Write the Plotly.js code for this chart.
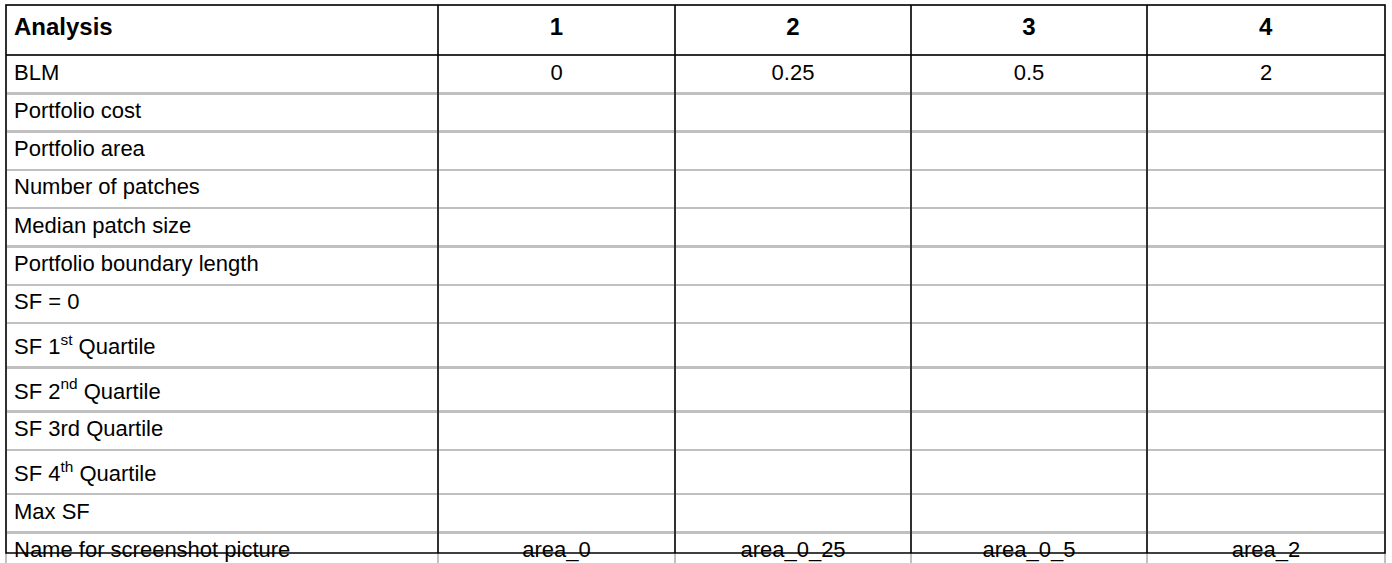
<!DOCTYPE html>
<html>
<head>
<meta charset="utf-8">
<script src="https://cdn.plot.ly/plotly-3.0.1.min.js"></script>
<style>body{margin:0;background:#fff}#graph{width:1392px;height:563px}</style>
</head>
<body>
<div id="graph"></div>
<script>
// table content
const headers = ['Analysis', '1', '2', '3', '4'];
const rowLabels = ['BLM', 'Portfolio cost', 'Portfolio area', 'Number of patches', 'Median patch size',
    'Portfolio boundary length', 'SF = 0', 'SF 1<sup>st</sup> Quartile', 'SF 2<sup>nd</sup> Quartile',
    'SF 3rd Quartile', 'SF 4<sup>th</sup> Quartile', 'Max SF', 'Name for screenshot picture'];
const analysis1 = ['0', '', '', '', '', '', '', '', '', '', '', '', 'area_0'];
const analysis2 = ['0.25', '', '', '', '', '', '', '', '', '', '', '', 'area_0_25'];
const analysis3 = ['0.5', '', '', '', '', '', '', '', '', '', '', '', 'area_0_5'];
const analysis4 = ['2', '', '', '', '', '', '', '', '', '', '', '', 'area_2'];

const W = 1392, H = 563;
const tblLeft = 6, tblRight = 1385, tblTop = 5;
const headH = 50, rowH = 38.3;
const colW = [432, 237, 236, 236, 238];
const tblBottom = tblTop + headH + rowH * rowLabels.length;

const px = x => x / W;
const py = y => 1 - y / H;

const trace = {
    type: 'table',
    domain: { x: [px(tblLeft), px(tblRight)], y: [0, py(tblTop)] },
    columnwidth: colW,
    header: {
        values: headers.map(h => '<b>' + h + '</b>'),
        align: ['left', 'center', 'center', 'center', 'center'],
        height: headH,
        line: { color: '#c0c0c0', width: 2 },
        fill: { color: 'white' },
        font: { family: 'Liberation Sans, Arial, sans-serif', size: 24, color: 'black' }
    },
    cells: {
        values: [rowLabels, analysis1, analysis2, analysis3, analysis4],
        align: ['left', 'center', 'center', 'center', 'center'],
        height: rowH,
        line: { color: '#c0c0c0', width: 2.5 },
        fill: { color: 'white' },
        font: { family: 'Liberation Sans, Arial, sans-serif', size: 22, color: 'black' }
    }
};

// black grid: outer box, column separators, header underline
const shapes = [];
const blk = { color: 'black', width: 1.5 };
shapes.push({ type: 'rect', xref: 'paper', yref: 'paper', x0: px(tblLeft), x1: px(tblRight), y0: py(tblBottom), y1: py(tblTop), line: blk });
let xPos = tblLeft;
for (let i = 0; i < colW.length - 1; i++) {
    xPos += colW[i];
    shapes.push({ type: 'line', xref: 'paper', yref: 'paper', x0: px(xPos), x1: px(xPos), y0: py(tblBottom), y1: py(tblTop), line: blk });
}
shapes.push({ type: 'line', xref: 'paper', yref: 'paper', x0: px(tblLeft), x1: px(tblRight), y0: py(tblTop + headH), y1: py(tblTop + headH), line: blk });

Plotly.newPlot('graph', [trace], {
    width: W, height: H,
    margin: { l: 0, r: 0, t: 0, b: 0, pad: 0 },
    paper_bgcolor: 'white',
    shapes: shapes
}, { displayModeBar: false, staticPlot: true });
</script>
</body>
</html>
